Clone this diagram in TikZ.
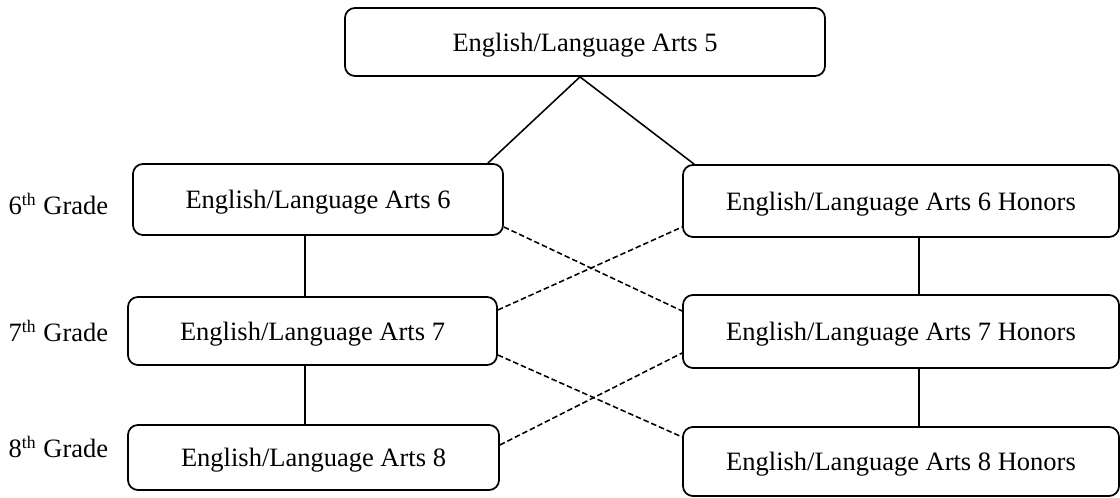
\documentclass[tikz,border=0pt]{standalone}
\usepackage{fontspec}
\setmainfont{Liberation Serif}
\usetikzlibrary{positioning,calc}
\newcommand{\px}{0.4528pt}

\begin{document}
\begin{tikzpicture}[x=\px,y=-\px,semithick,
    course/.style={draw,rounded corners=4.5pt,line width=0.8pt,inner sep=0pt,text depth=0pt,font=\fontsize{12}{14}\selectfont},
    grade/.style={anchor=west,inner sep=0pt,font=\fontsize{12}{14}\selectfont},
    link/.style={line width=0.7pt},
    cross/.style={line width=0.7pt,dash pattern=on 2.5pt off 1.3pt}]
  \useasboundingbox (0,0) rectangle (1120,498);
  % courses
  \node[course,minimum width=480*\px,minimum height=68*\px] (ela5) at (585,42) {English/Language Arts 5};
  \node[course,minimum width=370*\px,minimum height=71*\px] (ela6) at (318,199.5) {English/Language Arts 6};
  \node[course,minimum width=369*\px,minimum height=68*\px] (ela7) at (312.5,331) {English/Language Arts 7};
  \node[course,minimum width=371*\px,minimum height=65*\px] (ela8) at (313.5,457.5) {English/Language Arts 8};
  \node[course,minimum width=436*\px,minimum height=72*\px] (hon6) at (901,201) {English/Language Arts 6 Honors};
  \node[course,minimum width=436*\px,minimum height=73*\px] (hon7) at (901,331.5) {English/Language Arts 7 Honors};
  \node[course,minimum width=436*\px,minimum height=69*\px] (hon8) at (901,461.5) {English/Language Arts 8 Honors};
  % grades
  \node[grade] (g6) at (8,204) {6\textsuperscript{th} Grade};
  \node[grade] (g7) at (8,331) {7\textsuperscript{th} Grade};
  \node[grade] (g8) at (8,447) {8\textsuperscript{th} Grade};
  \coordinate (vl) at (305,0);
  \coordinate (vr) at (919,0);
  \coordinate (top) at ($(ela5.south)+(-5,0)$);
  \path[link] (top) edge ($(ela6.north east)+(-16,0)$)
        (top) edge ($(hon6.north west)+(12,0)$)
        (ela6.south -| vl) edge (ela7.north -| vl)
        (ela7.south -| vl) edge (ela8.north -| vl)
        (hon6.south -| vr) edge (hon7.north -| vr)
        (hon7.south -| vr) edge (hon8.north -| vr);
  \path[cross] ($(ela6.east)+(0,27.5)$) edge ($(hon7.west)+(0,-20.5)$)
        ($(ela7.east)+(0,-21)$) edge ($(hon6.west)+(0,26)$)
        ($(ela7.east)+(0,24)$) edge ($(hon8.west)+(0,-24.5)$)
        ($(ela8.east)+(0,-12.5)$) edge ($(hon7.west)+(0,21.5)$);
\end{tikzpicture}
\end{document}
